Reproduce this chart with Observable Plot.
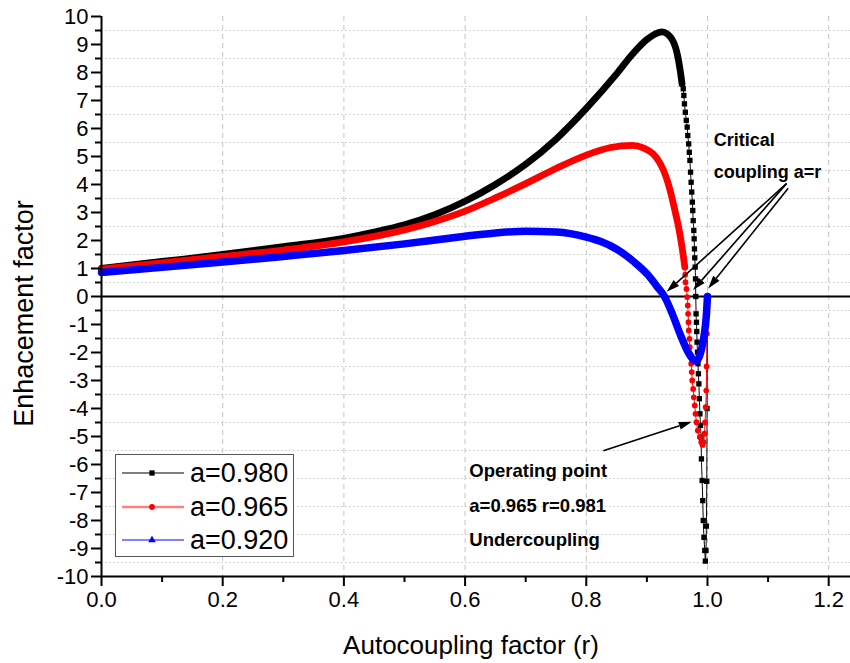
<!DOCTYPE html>
<html>
<head>
<meta charset="utf-8">
<script src="https://cdn.jsdelivr.net/npm/d3@7"></script>
<script src="https://cdn.jsdelivr.net/npm/@observablehq/plot@0.6"></script>
<style>
  body { margin: 0; background: #fff; }
  #wrap { position: relative; width: 850px; height: 663px; font-family: "Liberation Sans", Arial, sans-serif; }
  #legend { position: absolute; left: 115px; top: 454px; width: 179px; height: 103px; border: 1px solid #555; background: #fff; box-sizing: border-box; }
  .row { position: absolute; left: 0; height: 30px; }
  .row svg { position: absolute; left: 5px; top: 9px; }
  .row span { position: absolute; left: 74px; top: 0; font-size: 27px; line-height: 30px; color: #000; white-space: nowrap; }
</style>
</head>
<body>
<div id="wrap"></div>
<script>
// ---- data ----
const seriesNames = ["a=0.980", "a=0.965", "a=0.920"];

const r980 = [0, 0.1, 0.2, 0.3, 0.4, 0.45, 0.5, 0.55, 0.6, 0.65, 0.7, 0.75, 0.8, 0.85, 0.876, 0.9, 0.925, 0.939, 0.95, 0.955, 0.958,
  0.960, 0.961, 0.962, 0.9635, 0.965, 0.9665, 0.9675, 0.969, 0.970, 0.971, 0.972, 0.973, 0.974, 0.975, 0.9757, 0.9764, 0.9774, 0.978, 0.9785, 0.979, 0.9797, 0.9802, 0.9807,
  0.9812, 0.9818, 0.9823, 0.9828, 0.9835, 0.9843, 0.985, 0.9858, 0.9866, 0.9875, 0.9885, 0.9893, 0.990, 0.9912, 0.9922, 0.993, 0.9942, 0.9955, 0.9965,
  0.9975, 0.9982, 0.9988, 0.9993, 1.0];
const e980 = [1.0, 1.25, 1.5, 1.78, 2.08, 2.3, 2.56, 2.92, 3.4, 4.0, 4.72, 5.62, 6.72, 7.95, 8.65, 9.18, 9.45, 9.26, 8.67, 8.07, 7.6,
  7.42, 7.18, 6.88, 6.58, 6.29, 6.05, 5.75, 5.45, 5.15, 4.86, 4.44, 4.08, 3.73, 3.37, 3.07, 2.71, 2.36, 2.06, 1.70, 1.38, 1.05, 0.63, 0.0,
  -0.62, -0.92, -1.25, -1.63, -1.99, -2.40, -2.76, -3.12, -3.65, -4.19, -4.6, -5.02, -5.80, -6.57, -7.29, -8.0, -8.6, -9.07, -9.45,
  -9.07, -8.2, -6.6, -4.0, 0];

const r965 = [0, 0.1, 0.2, 0.3, 0.4, 0.5, 0.55, 0.6, 0.65, 0.7, 0.75, 0.8, 0.84, 0.876, 0.895, 0.91, 0.922, 0.932, 0.94, 0.947, 0.953, 0.958, 0.9626,
  0.9632, 0.9637, 0.9653, 0.9665, 0.9675, 0.968, 0.9686, 0.9691, 0.9703, 0.9708, 0.9719, 0.9731, 0.974, 0.9748, 0.9764, 0.9774, 0.979, 0.9802, 0.9818, 0.984, 0.9873, 0.9896, 0.9917, 0.9935,
  0.995, 0.996, 0.997, 0.998, 0.9985, 0.999, 1.0];
const e965 = [0.98, 1.2, 1.43, 1.66, 1.95, 2.38, 2.68, 3.05, 3.52, 4.03, 4.57, 5.05, 5.32, 5.4, 5.3, 5.1, 4.75, 4.25, 3.65, 3.0, 2.4, 1.76, 1.05,
  0.78, 0.51, 0.27, -0.02, -0.32, -0.62, -0.92, -1.21, -1.51, -1.81, -2.11, -2.40, -2.70, -3.0, -3.30, -3.60, -3.89, -4.19, -4.49, -4.79, -5.02, -5.20, -5.3, -5.2,
  -4.9, -4.5, -3.95, -3.36, -2.5, -1.33, 0];

const r920 = [0, 0.1, 0.2, 0.3, 0.4, 0.5, 0.6, 0.65, 0.7, 0.75, 0.8, 0.823, 0.851, 0.878, 0.9005, 0.917, 0.929, 0.942, 0.955, 0.966, 0.972, 0.977, 0.981, 0.985, 0.989, 0.992, 0.995, 0.997, 0.9985, 1.0];
const e920 = [0.86, 1.04, 1.23, 1.43, 1.64, 1.88, 2.15, 2.27, 2.33, 2.3, 2.12, 1.97, 1.68, 1.25, 0.8, 0.35, 0.0, -0.62, -1.35, -1.9, -2.13, -2.27, -2.3, -2.22, -1.98, -1.7, -1.3, -0.95, -0.55, 0];

const xTicks = [0, 0.2, 0.4, 0.6, 0.8, 1.0, 1.2];
const xMinorTicks = [0.1, 0.3, 0.5, 0.7, 0.9, 1.1];
const yTicks = [-10, -9, -8, -7, -6, -5, -4, -3, -2, -1, 0, 1, 2, 3, 4, 5, 6, 7, 8, 9, 10];
const yMinorTicks = [-9.5, -8.5, -7.5, -6.5, -5.5, -4.5, -3.5, -2.5, -1.5, -0.5, 0.5, 1.5, 2.5, 3.5, 4.5, 5.5, 6.5, 7.5, 8.5, 9.5];

const xTitle = "Autocoupling factor (r)";
const yTitle = "Enhacement factor";

// annotations (data coordinates)
const critTexts = [{r: 1.0104, e: 5.39, text: "Critical"}, {r: 1.0104, e: 4.22, text: "coupling a=r"}];
const opTexts = [{r: 0.607, e: -6.45, text: "Operating point"}, {r: 0.607, e: -7.7, text: "a=0.965 r=0.981"}, {r: 0.607, e: -8.9, text: "Undercoupling"}];
const arrows = [
  {x1: 1.1315, y1: 4.02, x2: 0.9335, y2: 0.15},
  {x1: 1.1315, y1: 4.02, x2: 0.977, y2: 0.21},
  {x1: 1.134, y1: 3.85, x2: 1.002, y2: 0.27},
  {x1: 0.829, y1: -5.53, x2: 0.975, y2: -4.49}
];

// ---- build ----
const series = [
  {name: seriesNames[0], r: r980, e: e980, color: "#000000", symbol: "square", dotR: 3.0, bandTo: 0.958, bandW: 6.8},
  {name: seriesNames[1], r: r965, e: e965, color: "#ff0000", symbol: "circle", dotR: 2.9, bandTo: 0.9626, bandW: 6.8},
  {name: seriesNames[2], r: r920, e: e920, color: "#0000ff", symbol: "triangle", dotR: 2.8, bandTo: 1.0, bandW: 7.5}
];

const FONT = '"Liberation Sans", Arial, sans-serif';

function arrowMark(data) {
  return (index, scales) => {
    const g = d3.create("svg:g");
    for (const a of data) {
      const x1 = scales.x(a.x1), y1 = scales.y(a.y1), x2 = scales.x(a.x2), y2 = scales.y(a.y2);
      const ang = Math.atan2(y2 - y1, x2 - x1);
      const L = 13, hw = 4;
      const bx = x2 - L * Math.cos(ang), by = y2 - L * Math.sin(ang);
      g.append("line").attr("x1", x1).attr("y1", y1).attr("x2", bx).attr("y2", by)
        .attr("stroke", "#000").attr("stroke-width", 1.6);
      g.append("path")
        .attr("d", `M${x2},${y2}L${bx + hw * Math.sin(ang)},${by - hw * Math.cos(ang)}L${bx - hw * Math.sin(ang)},${by + hw * Math.cos(ang)}Z`)
        .attr("fill", "#000");
    }
    return g.node();
  };
}

const marks = [
  Plot.ruleX(xTicks.filter(d => d > 0), {stroke: "#c4c4c4", strokeWidth: 1, strokeDasharray: "5,4"}),
  Plot.ruleY(yMinorTicks, {stroke: "#c4c4c4", strokeWidth: 1, strokeDasharray: "1.5,2.5"}),
  Plot.ruleY([0], {stroke: "#000", strokeWidth: 2})
];

for (const s of series) {
  const rows = s.r.map((r, i) => ({r, e: s.e[i]}));
  const band = rows.filter(d => d.r <= s.bandTo);
  marks.push(Plot.line(band, {x: "r", y: "e", stroke: s.color, strokeWidth: s.bandW, curve: "monotone-x"}));
  marks.push(Plot.line(rows, {x: "r", y: "e", stroke: s.color, strokeWidth: 1, curve: "monotone-x"}));
  marks.push(Plot.dot(rows.filter(d => d.r >= s.bandTo - 0.01), {x: "r", y: "e", symbol: () => s.symbol, fill: s.color, stroke: "none", r: s.dotR}));
}

marks.push(
  Plot.ruleY([-10], {stroke: "#000", strokeWidth: 2}),
  Plot.ruleX([0], {stroke: "#000", strokeWidth: 2}),
  Plot.axisX({ticks: xTicks, tickFormat: d => d.toFixed(1), tickSize: 10, tickPadding: 5, strokeWidth: 2, fontSize: 22, label: null}),
  Plot.axisX({ticks: xMinorTicks, tickFormat: () => "", tickSize: 6, strokeWidth: 2, label: null}),
  Plot.axisY({ticks: yTicks, tickFormat: d => String(d), tickSize: 10, tickPadding: 3, strokeWidth: 2, fontSize: 22, label: null}),
  Plot.axisY({ticks: yMinorTicks, tickFormat: () => "", tickSize: 6, strokeWidth: 2, label: null}),
  Plot.text([xTitle], {frameAnchor: "bottom", dy: 77, dx: -5, lineAnchor: "bottom", fontSize: 26, fill: "#000"}),
  Plot.text([yTitle], {frameAnchor: "left", textAnchor: "middle", rotate: -90, dx: -69, dy: 17, lineAnchor: "bottom", fontSize: 27, fill: "#000"}),
  Plot.text(critTexts, {x: "r", y: "e", text: "text", textAnchor: "start", lineAnchor: "bottom", fontSize: 18, fontWeight: "bold", fill: "#000"}),
  Plot.text(opTexts, {x: "r", y: "e", text: "text", textAnchor: "start", lineAnchor: "bottom", fontSize: 18.5, fontWeight: "bold", fill: "#000"}),
  arrowMark(arrows)
);

const chart = Plot.plot({
  width: 850,
  height: 663,
  marginLeft: 101,
  marginRight: 0,
  marginTop: 16,
  marginBottom: 87,
  x: {domain: [0, 1.236]},
  y: {domain: [-10, 10]},
  style: {fontFamily: FONT, background: "#fff", color: "#000", overflow: "visible"},
  marks
});

const wrap = document.getElementById("wrap");
wrap.appendChild(chart);

// legend (inside the plot area, as in the reference)
const legend = document.createElement("div");
legend.id = "legend";
const rowTops = [3, 37, 70];
const legendLine = ["#000000", "#ff8080", "#0000ff"];
const legendLineW = [1.2, 2.5, 1.2];
series.forEach((s, i) => {
  const row = document.createElement("div");
  row.className = "row";
  row.style.top = rowTops[i] + "px";
  const sym = d3.symbol(s.symbol === "square" ? d3.symbolSquare : s.symbol === "circle" ? d3.symbolCircle : d3.symbolTriangle, Math.PI * s.dotR * s.dotR)();
  row.innerHTML = `<svg width="64" height="12"><line x1="1" y1="6" x2="63" y2="6" stroke="${legendLine[i]}" stroke-width="${legendLineW[i]}"/>` +
    `<path d="${sym}" transform="translate(31,6)" fill="${s.color}"/></svg><span>${s.name}</span>`;
  legend.appendChild(row);
});
wrap.appendChild(legend);
</script>
</body>
</html>
